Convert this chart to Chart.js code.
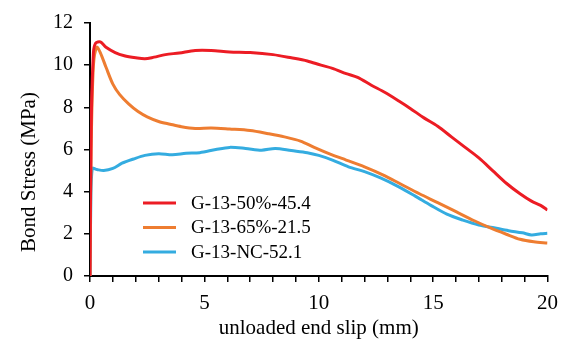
<!DOCTYPE html>
<html>
<head>
<meta charset="utf-8">
<script src="https://cdn.jsdelivr.net/npm/chart.js@4"></script>
<style>
  html, body { margin: 0; padding: 0; background: #fff; }
  #wrap { width: 567px; height: 342px; }
</style>
</head>
<body>
<div id="wrap"><canvas id="myChart" width="567" height="342"></canvas></div>
<script>
var seriesNames = ['G-13-50%-45.4', 'G-13-65%-21.5', 'G-13-NC-52.1'];
var seriesColors = ['#ec1c24', '#ee7d31', '#34ace0'];

var slip50 = [0, 0.05, 0.15, 0.25, 0.45, 0.7, 1.1, 1.5, 2.0, 2.4, 2.8, 3.3, 3.9, 4.6, 5.3, 6.1, 7.0, 8.0, 8.8, 9.5, 10.1, 10.6, 11.2, 11.7, 12.3, 12.9, 13.5, 14.0, 14.6, 15.2, 15.8, 16.4, 17.0, 17.6, 18.2, 18.8, 19.3, 19.7, 20];
var stress50 = [0, 7, 10.6, 11.05, 11.1, 10.85, 10.6, 10.45, 10.35, 10.3, 10.38, 10.5, 10.58, 10.7, 10.7, 10.63, 10.6, 10.5, 10.35, 10.2, 10.0, 9.85, 9.6, 9.42, 9.05, 8.7, 8.3, 7.95, 7.5, 7.1, 6.6, 6.1, 5.6, 5.0, 4.4, 3.9, 3.55, 3.35, 3.13];

var slip65 = [0, 0.05, 0.15, 0.3, 0.45, 0.7, 1.0, 1.3, 1.7, 2.1, 2.5, 3.0, 3.5, 4.0, 4.6, 5.3, 6.1, 7.0, 7.8, 8.5, 9.2, 9.8, 10.5, 11.2, 12.0, 12.8, 13.6, 14.4, 15.2, 16.0, 16.8, 17.5, 18.2, 18.8, 19.4, 20];
var stress65 = [0, 6, 10, 10.85, 10.6, 9.9, 9.1, 8.6, 8.15, 7.8, 7.55, 7.33, 7.2, 7.08, 7.0, 7.02, 6.97, 6.9, 6.75, 6.6, 6.4, 6.1, 5.78, 5.5, 5.18, 4.8, 4.35, 3.9, 3.48, 3.05, 2.62, 2.28, 1.98, 1.74, 1.62, 1.56];

var slipNC = [0, 0.03, 0.1, 0.3, 0.6, 1.0, 1.4, 1.9, 2.4, 3.0, 3.6, 4.2, 4.8, 5.5, 6.1, 6.8, 7.5, 8.1, 8.8, 9.5, 10.0, 10.6, 11.3, 12.0, 12.7, 13.5, 14.2, 14.9, 15.6, 16.3, 17.0, 17.6, 18.3, 18.9, 19.3, 19.7, 20];
var stressNC = [0, 3, 5.1, 5.05, 5.0, 5.1, 5.35, 5.55, 5.72, 5.8, 5.75, 5.82, 5.85, 6.0, 6.1, 6.05, 5.97, 6.05, 5.95, 5.85, 5.72, 5.5, 5.18, 4.95, 4.65, 4.23, 3.8, 3.35, 2.93, 2.65, 2.42, 2.3, 2.15, 2.05, 1.95, 2.0, 2.03];

var xLabels = ['0', '5', '10', '15', '20'];
var yLabels = ['0', '2', '4', '6', '8', '10', '12'];

function pts(xs, ys) {
    return xs.map(function (x, i) { return { x: x, y: ys[i] }; });
}

var serif = "'Liberation Serif', 'DejaVu Serif', serif";

// legend and y title drawn inside the plot like the original figure
var extras = {
    id: 'extras',
    afterDraw: function (chart) {
        var ctx = chart.ctx;
        ctx.save();
        ctx.font = '19px ' + serif;
        ctx.textBaseline = 'middle';
        ctx.fillStyle = '#000';
        var rows = [203, 227.5, 252];
        chart.data.datasets.forEach(function (ds, i) {
            ctx.strokeStyle = ds.borderColor;
            ctx.lineWidth = 3;
            ctx.beginPath();
            ctx.moveTo(143, rows[i]);
            ctx.lineTo(176, rows[i]);
            ctx.stroke();
            ctx.fillText(ds.label, 191, rows[i] + 1);
        });
        ctx.translate(29, 172);
        ctx.rotate(-Math.PI / 2);
        ctx.textAlign = 'center';
        ctx.font = '21px ' + serif;
        ctx.fillText('Bond Stress (MPa)', 0, 0);
        ctx.restore();
    }
};

var ctx = document.getElementById('myChart').getContext('2d');
var myChart = new Chart(ctx, {
    type: 'line',
    data: {
        datasets: [
            { label: seriesNames[0], data: pts(slip50, stress50), borderColor: seriesColors[0] },
            { label: seriesNames[1], data: pts(slip65, stress65), borderColor: seriesColors[1] },
            { label: seriesNames[2], data: pts(slipNC, stressNC), borderColor: seriesColors[2] }
        ]
    },
    options: {
        responsive: false,
        animation: false,
        layout: { padding: { top: 23, right: 18, left: 0, bottom: 0 } },
        elements: {
            point: { radius: 0 },
            line: { borderWidth: 3, tension: 0.3, fill: false }
        },
        plugins: {
            legend: { display: false },
            tooltip: { enabled: false }
        },
        scales: {
            x: {
                type: 'linear',
                min: 0,
                max: 20,
                afterFit: function (s) { s.height = 66; },
                border: { color: '#000', width: 2 },
                grid: { drawOnChartArea: false, color: '#000', tickLength: 6, lineWidth: 1.5 },
                ticks: {
                    stepSize: 1,
                    autoSkip: false,
                    maxRotation: 0,
                    padding: 9,
                    color: '#000',
                    font: { family: serif, size: 21 },
                    callback: function (v) { return v % 5 === 0 ? xLabels[v / 5] : ''; }
                },
                title: {
                    display: true,
                    text: 'unloaded end slip (mm)',
                    color: '#000',
                    font: { family: serif, size: 21 },
                    padding: { top: 0, bottom: 1 }
                }
            },
            y: {
                min: 0,
                max: 12,
                afterFit: function (s) { s.width = 90; },
                border: { color: '#000', width: 2 },
                grid: { drawOnChartArea: false, color: '#000', tickLength: 6, lineWidth: 1.5 },
                ticks: {
                    stepSize: 2,
                    padding: 11,
                    color: '#000',
                    font: { family: serif, size: 20 },
                    callback: function (v) { return yLabels[v / 2]; }
                }
            }
        }
    },
    plugins: [extras]
});
</script>
</body>
</html>
